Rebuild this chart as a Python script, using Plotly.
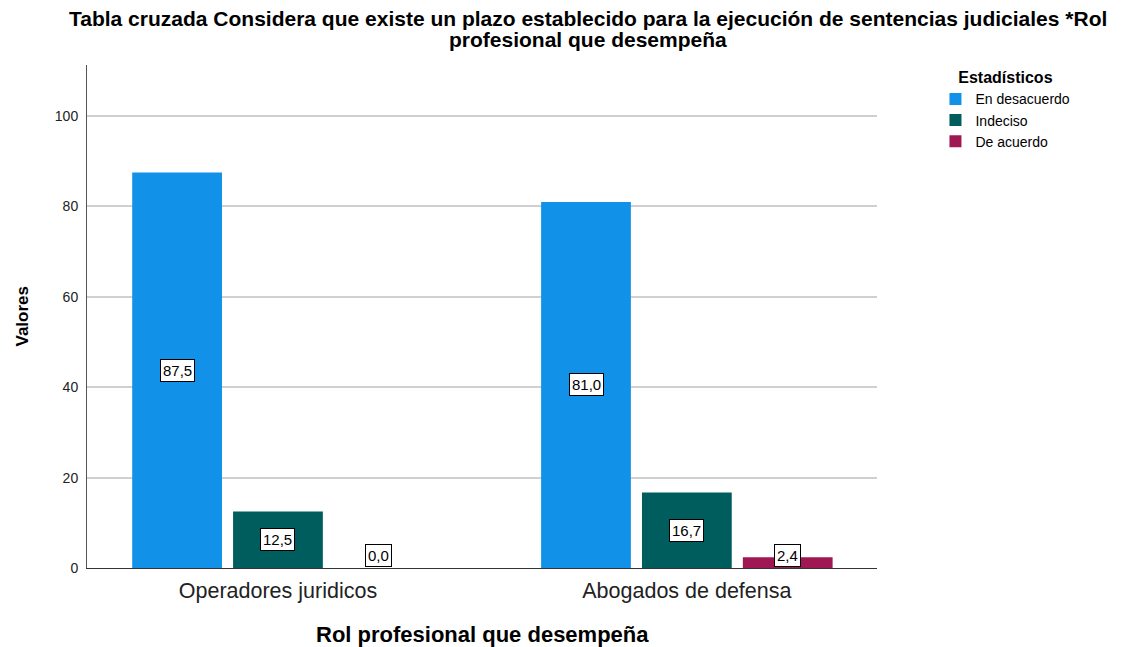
import plotly.graph_objects as go

categories = ["Operadores juridicos", "Abogados de defensa"]
series_names = ["En desacuerdo", "Indeciso", "De acuerdo"]
en_desacuerdo = [87.5, 81.0]
indeciso = [12.5, 16.7]
de_acuerdo = [0.0, 2.4]
series_values = [en_desacuerdo, indeciso, de_acuerdo]
colors = ["#1192e8", "#005d5d", "#9f1853"]
title_lines = [
    "Tabla cruzada Considera que existe un plazo establecido para la ejecución de sentencias judiciales *Rol",
    "profesional que desempeña",
]
x_title = "Rol profesional que desempeña"
y_title = "Valores"

FONT = "Liberation Sans, Arial"
BARGAP = 0.26
BARGROUPGAP = 0.11
YMAX = 111.3
PLOT_H = 503  # px

fig = go.Figure()
for name, vals, col in zip(series_names, series_values, colors):
    fig.add_trace(go.Bar(
        name=name, x=categories, y=vals,
        marker=dict(color=col, line=dict(width=0)),
    ))

slot = (1 - BARGAP) / len(series_names)
min_half = 13 * YMAX / PLOT_H
for si, vals in enumerate(series_values):
    for ci, v in enumerate(vals):
        xpos = ci + (si - (len(series_names) - 1) / 2) * slot
        if v / 2 < min_half:
            y, anchor = 0.2, "bottom"
        else:
            y, anchor = v / 2, "middle"
        fig.add_annotation(
            x=xpos, y=y, xref="x", yref="y", yanchor=anchor,
            text=f"{v:.1f}".replace(".", ","), showarrow=False,
            font=dict(family=FONT, size=15, color="black"),
            bgcolor="white", bordercolor="black", borderwidth=1, borderpad=2,
        )

for i, line in enumerate(title_lines):
    fig.add_annotation(
        xref="paper", yref="paper", x=0.634, y=1, yanchor="middle",
        yshift=47 - 21 * i, text=f"<b>{line}</b>", showarrow=False,
        font=dict(family=FONT, size=21, color="black"),
    )

fig.add_annotation(
    xref="paper", yref="paper", x=0.5, y=0, yanchor="middle", yshift=-66,
    text=f"<b>{x_title}</b>", showarrow=False,
    font=dict(family=FONT, size=22, color="black"),
)
fig.add_annotation(
    xref="paper", yref="paper", x=0, y=0.5, xanchor="center", xshift=-65,
    textangle=-90, text=f"<b>{y_title}</b>", showarrow=False,
    font=dict(family=FONT, size=17, color="black"),
)

fig.update_layout(
    width=1121, height=639,
    paper_bgcolor="white", plot_bgcolor="white",
    margin=dict(l=79, r=252, t=57, b=79),
    barmode="group", bargap=BARGAP, bargroupgap=BARGROUPGAP,
    font=dict(family=FONT, color="black"),
    legend=dict(
        title=dict(text="<b>Estadísticos</b>", font=dict(size=16, color="black"), side="top center"),
        x=1.074, xanchor="left", y=1.005, yanchor="top",
        font=dict(size=14, color="black"), itemwidth=30,
        tracegroupgap=0, bgcolor="rgba(0,0,0,0)",
    ),
    xaxis=dict(
        type="category", range=[-0.467, 1.465], automargin=False,
        showline=True, linecolor="#333333", linewidth=1,
        ticks="", ticklabelstandoff=3, tickfont=dict(size=21.5, color="#222222"),
        showgrid=False,
    ),
    yaxis=dict(
        range=[0, YMAX], tickvals=[0, 20, 40, 60, 80, 100], automargin=False,
        showline=True, linecolor="#555555", linewidth=1,
        showgrid=True, gridcolor="#d0d0d0", gridwidth=1.5,
        zeroline=False, ticks="", ticklabelstandoff=5,
        tickfont=dict(size=14, color="#222222"),
    ),
)

fig.write_html("out.html")
